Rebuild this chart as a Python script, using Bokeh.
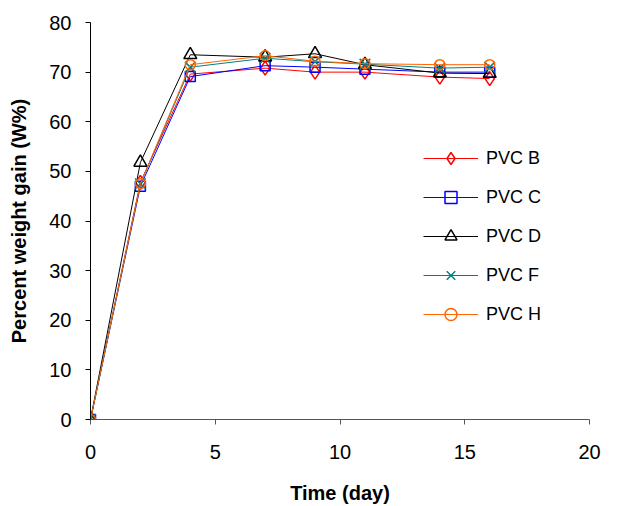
from bokeh.plotting import figure
from bokeh.models import Range1d, Legend, LegendItem
from bokeh.embed import file_html
from bokeh.resources import INLINE

days = [0, 2, 4, 7, 9, 11, 14, 16]
pvc_b = [0, 47.8, 69.6, 70.8, 70.0, 70.0, 69.0, 68.7]
pvc_c = [0, 47.0, 69.1, 71.3, 71.0, 70.6, 70.0, 70.0]
pvc_d = [0, 51.8, 73.5, 73.0, 73.7, 71.5, 69.8, 69.7]
pvc_f = [0, 47.5, 71.0, 72.8, 72.1, 71.6, 70.8, 71.0]
pvc_h = [0, 47.5, 71.5, 73.3, 72.2, 71.7, 71.5, 71.5]
series_names = ["PVC B", "PVC C", "PVC D", "PVC F", "PVC H"]
x_ticks = [0, 5, 10, 15, 20]
y_ticks = [0, 10, 20, 30, 40, 50, 60, 70, 80]

p = figure(width=618, height=506, output_backend="svg", toolbar_location=None,
           x_range=Range1d(0, 20), y_range=Range1d(0, 80),
           min_border_left=90, min_border_right=29, min_border_top=22, min_border_bottom=87)
p.outline_line_color = None
p.xgrid.grid_line_color = None
p.ygrid.grid_line_color = None

styles = [
    (pvc_b, "#FF0000", "diamond", 14),
    (pvc_c, "#0000FF", "square", 10),
    (pvc_d, "#000000", "triangle", 13),
    (pvc_f, "#008080", "x", 15),
    (pvc_h, "#FF6600", "circle", 10),
]
items = []
for (vals, col, mk, sz), name in zip(styles, series_names):
    l = p.line(days, vals, line_color=col, line_width=1)
    s = p.scatter(days, vals, marker=mk, size=sz, line_color=col,
                  fill_color=None, line_width=1.5)
    items.append(LegendItem(label=name, renderers=[l, s]))

legend = Legend(items=items, location=(333, 90), border_line_color=None,
                background_fill_alpha=0, padding=0, margin=0,
                glyph_width=55, glyph_height=30, label_height=20, spacing=9,
                label_standoff=8, label_text_font="Liberation Sans",
                label_text_font_size="18px", label_text_color="black")
p.add_layout(legend)

for ax in (p.xaxis[0], p.yaxis[0]):
    ax.major_label_text_font = "Liberation Sans"
    ax.major_label_text_font_size = "20px"
    ax.major_label_text_color = "black"
    ax.axis_label_text_font = "Liberation Sans"
    ax.axis_label_text_font_size = "20px"
    ax.axis_label_text_font_style = "bold"
    ax.axis_label_text_color = "black"
    ax.minor_tick_line_color = None
    ax.major_tick_in = 0
    ax.major_tick_out = 5
    ax.axis_line_color = "black"
    ax.major_tick_line_color = "black"

p.xaxis.ticker = x_ticks
p.yaxis.ticker = y_ticks
p.xaxis.axis_label = "Time (day)"
p.yaxis.axis_label = "Percent weight gain (W%)"
p.xaxis.major_label_standoff = 20
p.yaxis.major_label_standoff = 14
p.xaxis.axis_label_standoff = 20
p.yaxis.axis_label_standoff = 16
p.xaxis.axis_line_color = "#555555"
p.xaxis.major_tick_line_color = "#555555"

open("out.html", "w").write(file_html(p, INLINE))
